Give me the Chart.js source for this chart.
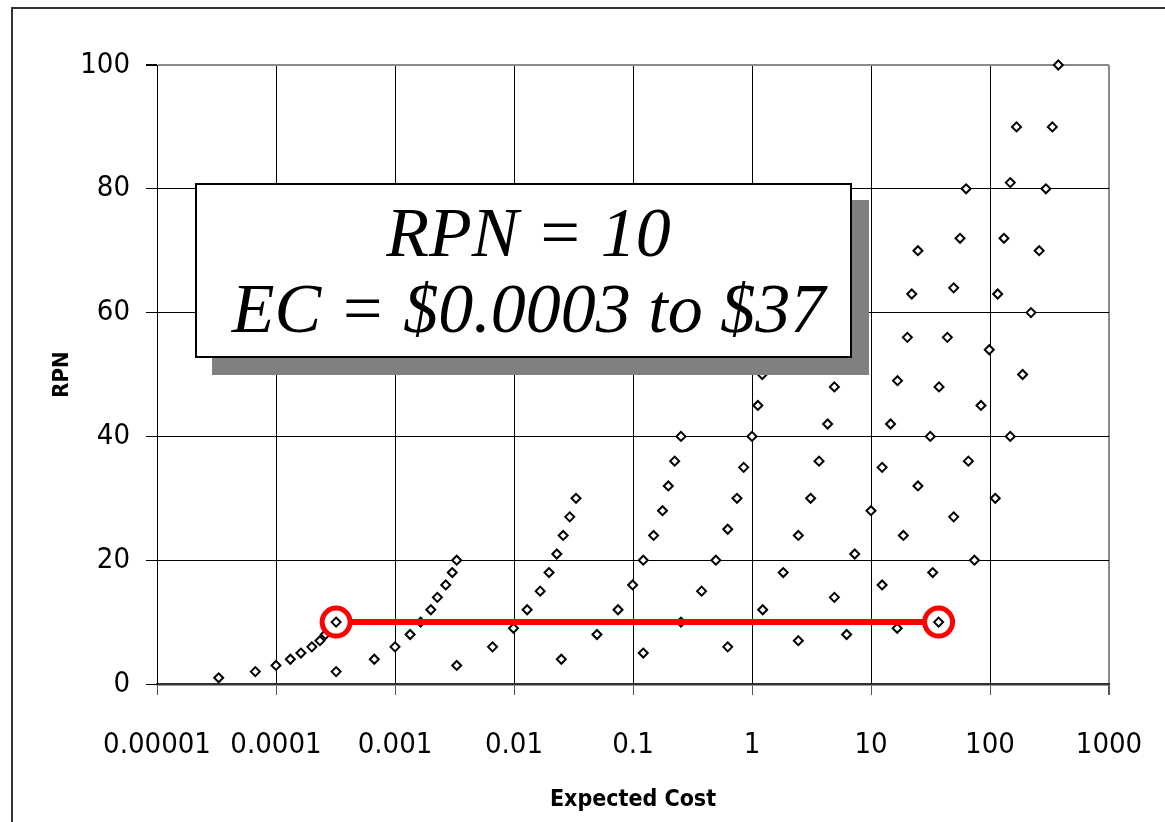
<!DOCTYPE html>
<html>
<head>
<meta charset="utf-8">
<script src="https://cdn.jsdelivr.net/npm/chart.js@4.4.1/dist/chart.umd.min.js"></script>
<style>
html,body{margin:0;padding:0;background:#fff;overflow:hidden;}
#wrap{position:relative;width:1165px;height:822px;overflow:hidden;background:#fff;}
canvas{position:absolute;left:0;top:0;}
#frame{position:absolute;left:11px;top:7px;width:1200px;height:900px;border:2px solid #333;box-sizing:border-box;pointer-events:none;}
#note{position:absolute;left:195px;top:183px;width:657px;height:175px;box-sizing:border-box;border:2px solid #000;background:#fff;box-shadow:17px 17px 0 #808080;font-family:'Liberation Serif','Times New Roman',serif;font-style:italic;font-size:70px;line-height:76px;text-align:center;padding-top:10px;padding-left:10px;color:#000;white-space:nowrap;}
</style>
</head>
<body>
<div id="wrap">
<canvas id="c" width="1165" height="822"></canvas>
<div id="frame"></div>
<div id="note">RPN = 10<br>EC = $0.0003 to $37</div>
</div>
<script>
// Axis ticks
const costTicks = [0.00001, 0.0001, 0.001, 0.01, 0.1, 1, 10, 100, 1000];
const costTickLabels = ['0.00001', '0.0001', '0.001', '0.01', '0.1', '1', '10', '100', '1000'];
const rpnTicks = [0, 20, 40, 60, 80, 100];
const rpnTickLabels = ['0', '20', '40', '60', '80', '100'];

// Scatter points: expected cost (x) and RPN (y)
const expectedCost = [
  0.000033, 0.000067, 0.0001, 0.000132, 0.000162, 0.0002, 0.000234, 0.00026, 0.000297, 0.00032,
  0.00032, 0.00067, 0.001, 0.00134, 0.00164, 0.002, 0.00227, 0.00267, 0.00303, 0.0033,
  0.0033, 0.0066, 0.0099, 0.0129, 0.0166, 0.0197, 0.0229, 0.0259, 0.0294, 0.0332,
  0.025, 0.0498, 0.0748, 0.0993, 0.122, 0.149, 0.177, 0.198, 0.224, 0.253,
  0.122, 0.253, 0.377, 0.497, 0.625, 0.748, 0.851, 1.0, 1.12, 1.22,
  0.625, 1.23, 1.83, 2.45, 3.11, 3.66, 4.32, 4.92,
  2.45, 4.92, 7.3, 10, 12.4, 14.6, 16.7, 20.2, 22, 24.8,
  6.24, 12.4, 18.7, 24.8, 31.5, 37.3, 43.8, 49.5, 56, 63,
  16.6, 33, 49.5, 65.8, 84, 98.6, 116, 131, 148, 167,
  37, 74, 110.7, 148, 188, 221, 259, 295, 334, 375
];
const rpn = [
  1, 2, 3, 4, 5, 6, 7, 8, 9, 10,
  2, 4, 6, 8, 10, 12, 14, 16, 18, 20,
  3, 6, 9, 12, 15, 18, 21, 24, 27, 30,
  4, 8, 12, 16, 20, 24, 28, 32, 36, 40,
  5, 10, 15, 20, 25, 30, 35, 40, 45, 50,
  6, 12, 18, 24, 30, 36, 42, 48,
  7, 14, 21, 28, 35, 42, 49, 56, 63, 70,
  8, 16, 24, 32, 40, 48, 56, 64, 72, 80,
  9, 18, 27, 36, 45, 54, 63, 72, 81, 90,
  10, 20, 30, 40, 50, 60, 70, 80, 90, 100
];

// Highlighted range at RPN = 10
const highlightCost = [0.00032, 37];
const highlightRPN = [10, 10];

const NARROW = "'Liberation Sans Narrow','Arial Narrow','DejaVu Sans Condensed',sans-serif";

const scatterData = expectedCost.map((x, i) => ({ x: x, y: rpn[i] }));
const highlightData = highlightCost.map((x, i) => ({ x: x, y: highlightRPN[i] }));

new Chart(document.getElementById('c'), {
  type: 'scatter',
  data: {
    datasets: [
      {
        label: 'Failure modes',
        data: scatterData,
        pointStyle: 'rectRot',
        pointRadius: 4.5,
        pointBorderWidth: 2,
        pointBorderColor: '#000',
        pointBackgroundColor: '#fff',
        showLine: false,
        clip: false,
        order: 3
      },
      {
        label: 'RPN = 10 range',
        type: 'line',
        data: highlightData,
        borderColor: '#ff0000',
        borderWidth: 6,
        pointRadius: 14,
        pointBorderWidth: 5,
        pointBorderColor: '#ff0000',
        pointBackgroundColor: '#fff',
        fill: false,
        clip: false,
        order: 2
      },
      {
        label: 'Range ends',
        data: highlightData,
        pointStyle: 'rectRot',
        pointRadius: 4.5,
        pointBorderWidth: 2,
        pointBorderColor: '#000',
        pointBackgroundColor: '#fff',
        showLine: false,
        clip: false,
        order: 1
      }
    ]
  },
  options: {
    responsive: false,
    animation: false,
    layout: { padding: { top: 65, right: 56, left: 0, bottom: 0 } },
    plugins: { legend: { display: false }, tooltip: { enabled: false } },
    scales: {
      x: {
        type: 'logarithmic',
        position: 'bottom',
        min: 0.00001,
        max: 1000,
        afterBuildTicks: s => { s.ticks = costTicks.map(v => ({ value: v })); },
        afterFit: s => { s.height = 138; s.paddingLeft = 0; s.paddingRight = 0; },
        ticks: {
          autoSkip: false, maxRotation: 0, minRotation: 0, padding: 33, color: '#000',
          font: { family: NARROW, size: 29 },
          callback: (v, i) => costTickLabels[i]
        },
        grid: {
          color: c => (c.tick && c.tick.value === 1000) ? '#8a8a8a' : '#000',
          lineWidth: c => (c.tick && c.tick.value === 1000) ? 2 : 1,
          tickLength: 11,
          tickColor: '#555'
        },
        border: { display: true, color: '#333', width: 2.5 },
        title: {
          display: true, text: 'Expected Cost', color: '#000',
          font: { family: NARROW, size: 23, weight: 'bold' },
          padding: { top: 0, bottom: 8 }
        }
      },
      y: {
        type: 'linear',
        min: 0,
        max: 100,
        afterBuildTicks: s => { s.ticks = rpnTicks.map(v => ({ value: v })); },
        afterFit: s => { s.width = 157; s.paddingTop = 0; s.paddingBottom = 0; },
        ticks: {
          padding: 16, color: '#000',
          font: { family: NARROW, size: 29 },
          callback: (v, i) => rpnTickLabels[i]
        },
        grid: {
          color: c => (c.tick && c.tick.value === 100) ? '#8a8a8a' : (c.tick && c.tick.value === 0 ? '#333' : '#000'),
          lineWidth: c => (c.tick && c.tick.value === 100) ? 2 : 1,
          tickLength: 11,
          tickColor: '#000'
        },
        border: { display: true, color: '#000', width: 1 },
        title: {
          display: true, text: 'RPN', color: '#000',
          font: { family: NARROW, size: 22, weight: 'bold' },
          padding: { top: 49, bottom: 0 }
        }
      }
    }
  }
});
</script>
</body>
</html>
